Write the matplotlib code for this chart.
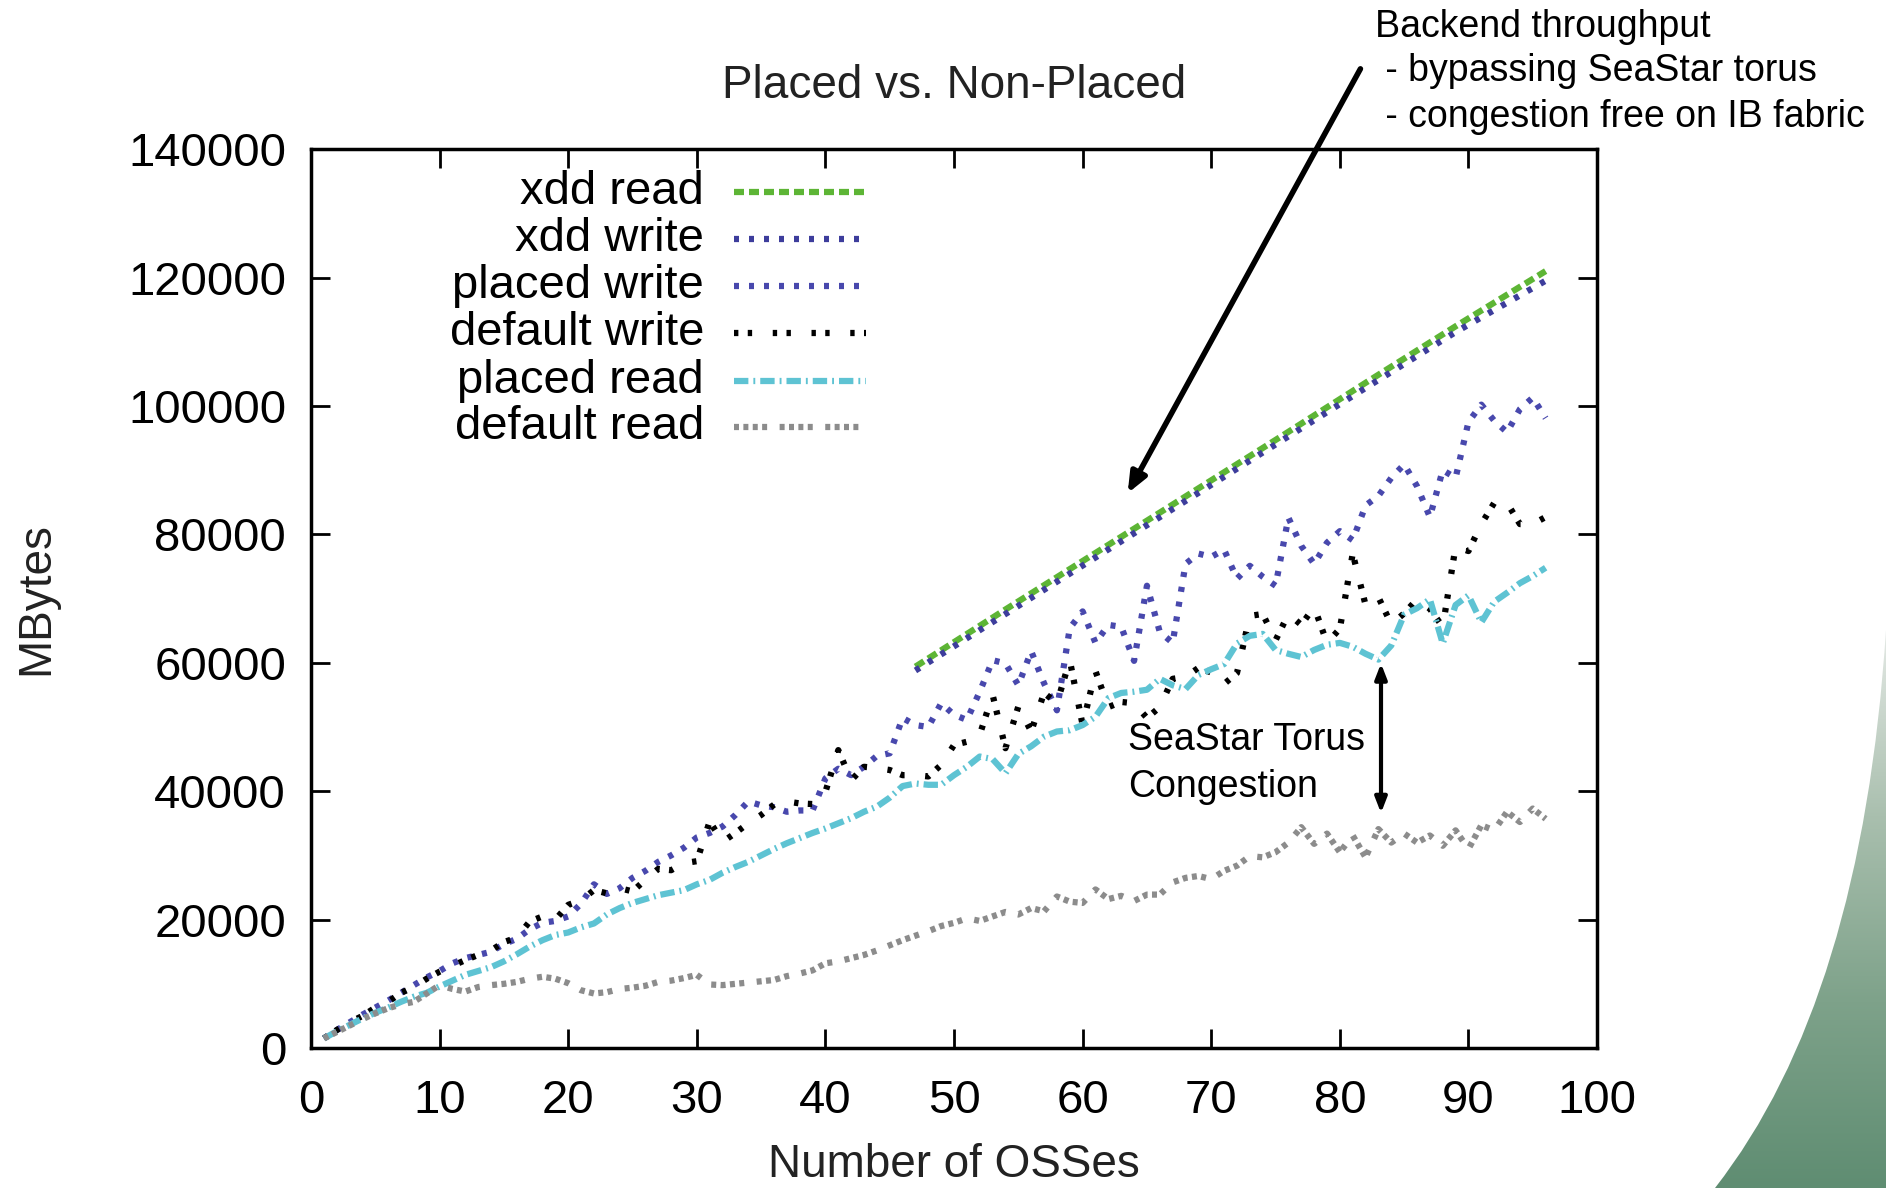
import numpy as np
import matplotlib.pyplot as plt
from matplotlib.lines import Line2D
from matplotlib.path import Path
from matplotlib.patches import PathPatch

plt.rcParams['font.family'] = ['Liberation Sans', 'DejaVu Sans']

# number of OSSes for the per-OSS runs
OSS = list(range(1, 97))

# xdd backend throughput (MBytes)
XDD_OSS = [47, 54, 61, 68, 75, 82, 89, 96]
XDD_READ = [59400, 68300, 77100, 85900, 94700, 103600, 112400, 121000]
XDD_WRITE = [58800, 67600, 76400, 85200, 94000, 102800, 111500, 119500]

PLACED_WRITE = [
    1.5, 2.8, 4.0, 5.2, 6.3, 7.4, 8.6, 9.8, 11.0, 12.0,
    13.2, 14.0, 14.5, 15.0, 16.2, 17.0, 18.5, 19.5, 19.8, 20.5,
    22.5, 25.5, 24.0, 24.9, 26.5, 27.6, 29.0, 30.0, 31.2, 32.8,
    33.5, 34.5, 36.3, 38.4, 37.8, 37.5, 36.8, 37.0, 37.0, 42.0,
    43.5, 42.5, 43.8, 45.5, 45.9, 51.4, 50.3, 50.0, 53.7, 51.9,
    51.1, 55.5, 60.4, 59.9, 56.5, 61.8, 56.8, 52.6, 65.4, 68.0,
    63.1, 65.9, 65.6, 60.3, 72.0, 64.8, 63.1, 75.4, 77.0, 76.5,
    77.6, 73.1, 75.1, 73.4, 72.0, 82.6, 78.2, 75.4, 78.7, 80.5,
    79.1, 84.5, 86.0, 88.8, 90.9, 87.5, 82.7, 90.0, 88.8, 97.5,
    100.2, 97.7, 95.9, 99.5, 101.3, 98.1]

DEFAULT_WRITE = [
    1.5, 2.8, 4.0, 5.0, 6.3, 7.2, 8.6, 9.5, 10.8, 11.9,
    12.8, 13.7, 14.5, 15.2, 16.5, 17.2, 19.7, 20.5, 20.0, 22.3,
    23.0, 24.6, 24.1, 24.9, 24.4, 26.2, 27.9, 27.7, 28.8, 29.1,
    35.3, 32.1, 33.5, 35.0, 36.3, 37.9, 38.4, 38.1, 38.0, 39.9,
    46.4, 41.7, 43.8, 43.6, 43.3, 42.5, 42.5, 42.3, 44.1, 47.2,
    47.7, 48.8, 55.0, 46.7, 53.2, 49.3, 55.3, 53.7, 60.4, 50.3,
    58.7, 53.1, 53.9, 53.7, 51.4, 53.1, 57.5, 57.8, 59.2, 58.5,
    56.7, 58.4, 67.3, 67.6, 63.5, 67.6, 65.9, 68.7, 63.1, 65.3,
    77.0, 69.0, 70.2, 66.0, 67.7, 69.9, 68.4, 65.6, 78.1, 77.4,
    81.6, 84.9, 84.9, 81.6, 81.6, 82.7]

PLACED_READ = [
    1.5, 2.6, 3.6, 4.6, 5.5, 6.3, 7.2, 8.0, 8.6, 9.6,
    10.5, 11.4, 12.0, 12.6, 13.5, 14.6, 15.8, 16.8, 17.6, 18.0,
    18.8, 19.4, 20.8, 21.8, 22.6, 23.2, 23.8, 24.2, 24.6, 25.5,
    26.2, 27.3, 28.2, 29.0, 30.0, 31.0, 31.9, 32.7, 33.5, 34.2,
    35.0, 35.8, 36.8, 37.6, 39.0, 40.8, 41.2, 41.0, 41.0, 42.5,
    43.8, 45.4, 45.0, 42.8, 45.8, 47.0, 48.5, 49.3, 49.5, 50.3,
    51.6, 54.5, 55.3, 55.5, 55.8, 57.5, 56.5, 55.9, 58.1, 59.0,
    59.8, 63.0, 64.2, 64.5, 62.0, 61.4, 60.9, 62.0, 62.8, 63.1,
    62.5, 61.4, 60.5, 62.7, 67.5, 68.5, 69.9, 63.0, 69.0, 70.5,
    66.3, 69.5, 70.9, 72.4, 73.5, 74.8]

DEFAULT_READ = [
    1.5, 2.5, 3.5, 4.5, 5.4, 6.2, 6.8, 7.2, 8.5, 9.8,
    9.2, 8.8, 9.5, 9.8, 10.0, 10.3, 10.8, 11.1, 10.8, 10.1,
    9.0, 8.5, 8.7, 9.2, 9.4, 9.7, 10.3, 10.5, 10.9, 11.4,
    9.9, 9.8, 10.0, 10.2, 10.4, 10.6, 11.2, 11.6, 12.1, 13.2,
    13.5, 14.0, 14.5, 15.2, 16.0, 16.8, 17.5, 18.2, 19.0, 19.5,
    20.2, 19.8, 20.5, 21.2, 20.8, 21.8, 21.3, 23.6, 22.8, 22.6,
    24.7, 23.2, 23.7, 22.9, 23.9, 23.9, 25.8, 26.5, 26.8, 26.3,
    27.6, 28.4, 29.9, 29.7, 30.5, 32.0, 34.4, 31.8, 33.4, 30.5,
    33.1, 29.7, 34.1, 32.0, 33.4, 32.0, 33.1, 31.5, 33.9, 31.0,
    34.7, 33.9, 36.8, 35.2, 37.3, 35.7]

LABELS = ['xdd read', 'xdd write', 'placed write', 'default write',
          'placed read', 'default read']

LW = 4.5
STYLES = {
    'xdd read': dict(color='#5db535', ls=(0, (1.6, 0.8))),
    'xdd write': dict(color='#3d3d9c', ls=(0, (0.8, 1.6))),
    'placed write': dict(color='#4848ad', ls=(0, (0.8, 1.6))),
    'default write': dict(color='black', ls=(0, (0.7, 1.5, 0.7, 3.3))),
    'placed read': dict(color='#5ec3d3', ls=(0, (2.3, 0.8, 0.3, 0.8))),
    'default read': dict(color='#8c8c8c', ls=(0, (0.8, 0.7, 0.8, 0.7, 0.8, 0.7, 0.8, 2.0))),
}

fig = plt.figure(figsize=(18.86, 11.88), dpi=100)

# green swoosh in the lower right corner (slide decoration)
bg = fig.add_axes([0, 0, 1, 1], zorder=-5)
bg.set_xlim(0, 1886)
bg.set_ylim(1188, 0)
bg.axis('off')
verts = [(1886, 630), (1862, 1000), (1715, 1188), (1886, 1188), (1886, 630)]
codes = [Path.MOVETO, Path.CURVE3, Path.CURVE3, Path.LINETO, Path.CLOSEPOLY]
swoosh = PathPatch(Path(verts, codes), facecolor='none', edgecolor='none')
bg.add_patch(swoosh)
grad = np.linspace(0, 1, 256).reshape(-1, 1)
img = bg.imshow(grad, cmap=plt.matplotlib.colors.LinearSegmentedColormap.from_list(
    'sw', ['#e4e9e5', '#a9bfae', '#7ea28a', '#5f8d72']),
    extent=(1700, 1886, 1188, 630), aspect='auto')
img.set_clip_path(swoosh)

ax = fig.add_axes([0.1649, 0.1178, 0.6819, 0.7567])

ax.plot(XDD_OSS, XDD_READ, lw=LW, **STYLES['xdd read'])
ax.plot(XDD_OSS, XDD_WRITE, lw=LW, **STYLES['xdd write'])
ax.plot(OSS, np.array(PLACED_WRITE) * 1000, lw=LW, **STYLES['placed write'])
ax.plot(OSS, np.array(DEFAULT_WRITE) * 1000, lw=LW, **STYLES['default write'])
ax.plot(OSS, np.array(PLACED_READ) * 1000, lw=LW, **STYLES['placed read'])
ax.plot(OSS, np.array(DEFAULT_READ) * 1000, lw=LW, **STYLES['default read'])

ax.set_xlim(0, 100)
ax.set_ylim(0, 140000)
ax.set_xticks(range(0, 101, 10))
ax.set_yticks(range(0, 140001, 20000))
ax.tick_params(direction='in', length=14, width=2, labelsize=34,
               top=True, right=True)
ax.tick_params(axis='y', pad=18)
ax.tick_params(axis='x', pad=22)
for s in ax.spines.values():
    s.set_linewidth(2.5)

ax.set_title('Placed vs. Non-Placed', fontsize=33, pad=37, color='#222222')
ax.set_xlabel('Number of OSSes', fontsize=33, labelpad=15, color='#222222')
ax.set_ylabel('MBytes', fontsize=33, labelpad=50, color='#222222')

# key, right-aligned labels with the sample to the right
rows = [0.952, 0.900, 0.848, 0.795, 0.742, 0.691]
for lab, yy in zip(LABELS, rows):
    ax.text(0.3056, yy, lab, transform=ax.transAxes, ha='right', va='center',
            fontsize=34)
    ax.add_line(Line2D([0.329, 0.4316], [yy, yy], transform=ax.transAxes,
                       lw=LW, **STYLES[lab]))

# annotations
ax.annotate('', xy=(63.5, 86400), xytext=(81.6, 152500),
            arrowprops=dict(arrowstyle='-|>,head_length=1.2,head_width=0.5',
                            lw=4, color='black', shrinkA=0, shrinkB=0),
            annotation_clip=False)
ax.annotate('', xy=(83.2, 36600), xytext=(83.2, 59900),
            arrowprops=dict(arrowstyle='<|-|>,head_length=0.9,head_width=0.35',
                            lw=3, color='black', shrinkA=0, shrinkB=0))
ax.text(63.5, 48000, 'SeaStar Torus', fontsize=27, va='center')
ax.text(63.5, 40700, 'Congestion', fontsize=27, va='center')

fig.text(1375 / 1886, 1 - 27 / 1188, 'Backend throughput', fontsize=27, va='center')
fig.text(1375 / 1886, 1 - 71 / 1188, ' - bypassing SeaStar torus', fontsize=27, va='center')
fig.text(1375 / 1886, 1 - 117 / 1188, ' - congestion free on IB fabric', fontsize=27, va='center')

fig.savefig('out.png', dpi=100)
